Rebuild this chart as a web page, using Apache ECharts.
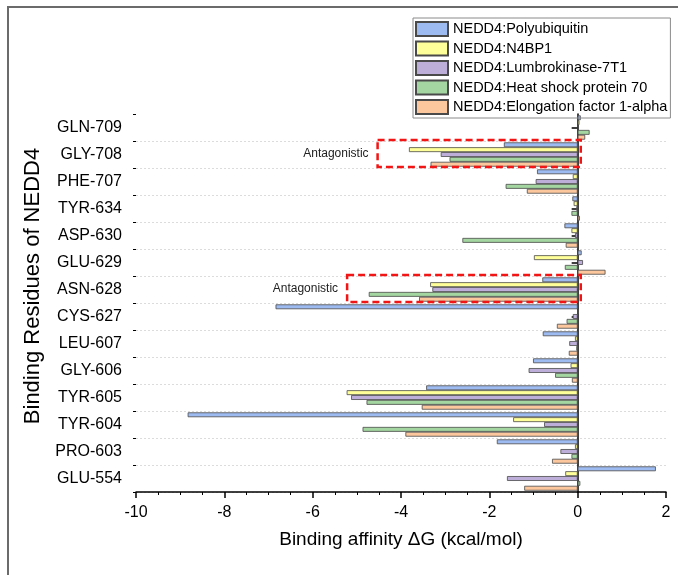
<!DOCTYPE html>
<html>
<head>
<meta charset="utf-8">
<script src="https://cdn.jsdelivr.net/npm/echarts@6/dist/echarts.min.js"></script>
<style>
    html, body { margin: 0; padding: 0; background: #fff; }
    #chart { width: 678px; height: 575px; }
</style>
</head>
<body>
<div id="chart"></div>
<script>
// 残基（从上到下）
var residues = ['GLN-709', 'GLY-708', 'PHE-707', 'TYR-634', 'ASP-630', 'GLU-629', 'ASN-628',
    'CYS-627', 'LEU-607', 'GLY-606', 'TYR-605', 'TYR-604', 'PRO-603', 'GLU-554'];
var seriesNames = ['NEDD4:Polyubiquitin', 'NEDD4:N4BP1', 'NEDD4:Lumbrokinase-7T1',
    'NEDD4:Heat shock protein 70', 'NEDD4:Elongation factor 1-alpha'];
var polyubiquitin = [0.07, -1.67, -0.92, -0.12, -0.30, 0.09, -0.80, -6.84, -0.79, -1.01, -3.43, -8.83, -1.83, 1.77];
var n4bp1 = [0.04, -3.82, -0.11, -0.09, -0.14, -0.99, -3.34, 0.02, -0.06, -0.16, -5.23, -1.46, -0.06, -0.28];
var lumbrokinase = [0.02, -3.10, -0.95, -0.03, -0.06, 0.12, -3.29, -0.11, -0.19, -1.11, -5.13, -0.76, -0.39, -1.60];
var hsp70 = [0.27, -2.90, -1.63, -0.14, -2.61, -0.29, -4.73, -0.25, -0.03, -0.51, -4.78, -4.87, -0.14, 0.06];
var ef1a = [0.17, -3.33, -1.15, 0.05, -0.27, 0.63, -3.59, -0.47, -0.20, -0.13, -3.53, -3.90, -0.58, -1.21];
// 虚线框标注
var antagonistic = [
    { residue: 'GLY-708', from: -4.53, to: 0.07 },
    { residue: 'ASN-628', from: -5.22, to: 0.07 }
];

var colors = ['#9dbbf0', '#ffff99', '#bcaed8', '#a3d6a0', '#fcc79d'],
    allData = [polyubiquitin, n4bp1, lumbrokinase, hsp70, ef1a],
    font = 'Liberation Sans, Arial, sans-serif',
    chart = echarts.init(document.getElementById('chart')),
    series = [],
    i;

for (i = 0; i < seriesNames.length; i++) {
    series.push({
        name: seriesNames[i],
        type: 'bar',
        yAxisIndex: 0,
        data: allData[i],
        barGap: '0%',
        barCategoryGap: '10%',
        itemStyle: {
            color: colors[i],
            borderColor: '#4a4a4a',
            borderWidth: 0.8
        }
    });
}

chart.setOption({
    animation: false,
    textStyle: { fontFamily: font },
    color: colors,
    grid: { left: 136, right: 12, top: 114, bottom: 83 },
    legend: {
        orient: 'vertical',
        left: 413,
        top: 18,
        padding: [3, 3, 3, 2],
        itemGap: 3.5,
        itemWidth: 32,
        itemHeight: 14,
        icon: 'rect',
        borderColor: '#8a8a8a',
        borderWidth: 1,
        borderRadius: 0,
        textStyle: { fontSize: 14.5, color: '#000', fontFamily: font },
        data: seriesNames
    },
    xAxis: {
        type: 'value',
        min: -10,
        max: 2,
        interval: 2,
        name: 'Binding affinity \u0394G (kcal/mol)',
        nameLocation: 'middle',
        nameGap: 38,
        nameTextStyle: { fontSize: 19, color: '#000', fontFamily: font },
        axisLine: { show: true, onZero: false, lineStyle: { color: '#000', width: 1.5 } },
        axisTick: { show: true, length: 6, lineStyle: { color: '#000', width: 1.5 } },
        minorTick: { show: true, splitNumber: 4, length: 3, lineStyle: { color: '#000', width: 1 } },
        axisLabel: { fontSize: 16, color: '#000', margin: 13 },
        splitLine: { show: false }
    },
    yAxis: [{
        type: 'category',
        inverse: true,
        data: residues,
        name: 'Binding Residues of NEDD4',
        nameLocation: 'middle',
        nameGap: 85,
        nameTextStyle: { fontSize: 22, color: '#000', fontFamily: font, padding: [0, 0, 0, 34] },
        axisLine: { show: true, lineStyle: { color: '#000', width: 1.5 } },
        axisTick: { show: true, alignWithLabel: true, length: 6, lineStyle: { color: '#000', width: 1.5 } },
        axisLabel: { fontSize: 16, color: '#000', margin: 14 },
        splitLine: { show: false }
    }, {
        // 次刻度 + 分隔虚线
        type: 'category',
        inverse: true,
        position: 'left',
        data: residues,
        axisLine: { show: false },
        axisTick: { show: true, alignWithLabel: false, length: 3, lineStyle: { color: '#000', width: 1 } },
        axisLabel: { show: false },
        splitLine: {
            show: true,
            interval: function (idx) { return idx > 0; },
            lineStyle: { color: '#dcdcdc', type: [2, 2], width: 1 }
        }
    }],
    graphic: [{
        type: 'rect',
        silent: true,
        shape: { x: 8, y: 7, width: 700, height: 600 },
        style: { fill: 'none', stroke: '#6b6b6b', lineWidth: 2 }
    }],
    series: series
});

// 按坐标换算画出虚线框和文字
var graphics = [],
    band = Math.abs(chart.convertToPixel({ yAxisIndex: 0 }, residues[1]) -
        chart.convertToPixel({ yAxisIndex: 0 }, residues[0]));
antagonistic.forEach(function (a, k) {
    var cy = chart.convertToPixel({ yAxisIndex: 0 }, a.residue),
        x1 = chart.convertToPixel({ xAxisIndex: 0 }, a.from),
        x2 = chart.convertToPixel({ xAxisIndex: 0 }, a.to),
        top = cy - band / 2 - 1,
        h = band;
    graphics.push({
        type: 'rect',
        id: 'box' + k,
        silent: true,
        z: 100,
        shape: { x: x1, y: top, width: x2 - x1, height: h },
        style: { fill: 'none', stroke: '#f21515', lineWidth: 2.5, lineDash: [7, 4] }
    }, {
        type: 'text',
        id: 'txt' + k,
        silent: true,
        z: 100,
        x: x1 - 9,
        y: cy - 1,
        style: {
            text: 'Antagonistic',
            fill: '#222',
            font: '12px ' + font,
            textAlign: 'right',
            textVerticalAlign: 'middle'
        }
    });
});
chart.setOption({ graphic: graphics });
</script>
</body>
</html>
